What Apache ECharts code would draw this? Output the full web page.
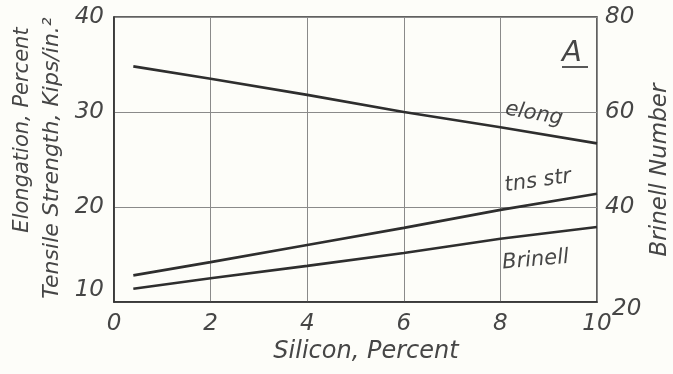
<!DOCTYPE html>
<html>
<head>
<meta charset="utf-8">
<script src="https://cdn.jsdelivr.net/npm/echarts@6/dist/echarts.min.js"></script>
<style>
  html, body { margin: 0; padding: 0; background: #fdfdf9; }
  #chart { width: 673px; height: 374px; }
</style>
</head>
<body>
<div id="chart"></div>
<script>
// Silicon content (percent) at which each curve is read
const silicon = [0.4, 2, 4, 6, 8, 10];
// Elongation, percent (left axis)
const elongation = [34.8, 33.5, 31.8, 30.0, 28.4, 26.7];
// Tensile strength, kips/in.^2 (left axis)
const tensile = [12.8, 14.2, 16.0, 17.8, 19.7, 21.4];
// Brinell hardness number (right axis)
const brinell = [22.8, 25.0, 27.6, 30.3, 33.3, 35.8];

const xTicks = [0, 2, 4, 6, 8, 10];
const leftTicks = [10, 20, 30, 40];
const rightTicks = [20, 40, 60, 80];

const FONT = '"DejaVu Sans", sans-serif';
const INK = '#464646';
const LINE = '#2e2e2e';
const TICK = 23;

const pairs = ys => silicon.map((x, i) => [x, ys[i]]);

const lineSeries = (name, ys, axis, label, at, rot, off) => ({
  name, type: 'line', yAxisIndex: axis, data: pairs(ys),
  symbol: 'none', smooth: false,
  lineStyle: { color: LINE, width: 2.6 },
  markPoint: {
    symbol: 'circle', symbolSize: 0, silent: true,
    data: [{ coord: at, value: label }],
    label: {
      show: true, formatter: label, rotate: rot, offset: off,
      fontFamily: FONT, fontStyle: 'italic', fontSize: 21, color: INK
    }
  }
});

const axisText = (text, x, y, size, rotated) => ({
  type: 'text', x, y, rotation: rotated ? Math.PI / 2 : 0, silent: true,
  style: {
    text, fontFamily: FONT, fontStyle: 'italic', fontSize: size, fill: INK,
    align: 'center', verticalAlign: 'middle'
  }
});

const chart = echarts.init(document.getElementById('chart'));
chart.setOption({
  backgroundColor: '#fdfdf9',
  animation: false,
  grid: {
    left: 114, right: 76, top: 17, bottom: 72, outerBoundsMode: 'none', containLabel: false,
    show: true, borderColor: '#2e2e2e', borderWidth: 1.5
  },
  xAxis: {
    type: 'value', min: 0, max: 10, interval: 2,
    axisLine: { show: true, lineStyle: { color: '#2e2e2e', width: 1.5 } },
    axisTick: { show: false },
    splitLine: { show: true, lineStyle: { color: '#8a8a8a', width: 1 } },
    axisLabel: {
      margin: 11, fontFamily: FONT, fontStyle: 'italic', fontSize: TICK, color: INK,
      formatter: v => xTicks.includes(v) ? String(v) : ''
    }
  },
  yAxis: [{
    type: 'value', min: 10, max: 40, interval: 10, position: 'left',
    axisLine: { show: true, lineStyle: { color: '#2e2e2e', width: 1.5 } },
    axisTick: { show: false },
    splitLine: { show: true, lineStyle: { color: '#8a8a8a', width: 1 } },
    axisLabel: {
      margin: 10, fontFamily: FONT, fontStyle: 'italic', fontSize: TICK, color: INK,
      formatter: v => v === leftTicks[0] ? '{lo|' + v + '}' : (leftTicks.includes(v) ? String(v) : ''),
      rich: { lo: { fontFamily: FONT, fontStyle: 'italic', fontSize: TICK, color: INK, padding: [0, 0, 24, 0] } }
    }
  }, {
    type: 'value', min: 20, max: 80, interval: 20, position: 'right',
    axisLine: { show: false },
    axisTick: { show: false },
    splitLine: { show: false },
    axisLabel: {
      margin: 8, fontFamily: FONT, fontStyle: 'italic', fontSize: TICK, color: INK,
      formatter: v => v === rightTicks[0] ? '{lo|' + v + '}' : (rightTicks.includes(v) ? String(v) : ''),
      rich: { lo: { fontFamily: FONT, fontStyle: 'italic', fontSize: TICK, color: INK, padding: [14, 0, 0, 7] } }
    }
  }],
  series: [
    lineSeries('elong', elongation, 0, 'elong', [8.9, 27.8], -10, [-13, -17]),
    lineSeries('tns str', tensile, 0, 'tns str', [8.8, 20.4], 8, [2, -22]),
    lineSeries('Brinell', brinell, 1, 'Brinell', [8.6, 34.2], 5, [4, 26])
  ],
  graphic: [
    axisText('Elongation, Percent', 23, 130, 21, true),
    axisText('Tensile Strength, Kips/in.²', 52, 158, 22, true),
    axisText('Brinell Number', 660, 170, 23, true),
    axisText('Silicon, Percent', 366, 352, 24, false),
    { type: 'text', left: 562, top: 39, style: { text: 'A', fontFamily: FONT, fontStyle: 'italic', fontSize: 29, fill: INK } },
    { type: 'line', shape: { x1: 562, y1: 67, x2: 588, y2: 67 }, style: { stroke: INK, lineWidth: 1.8 } }
  ]
});
</script>
</body>
</html>
